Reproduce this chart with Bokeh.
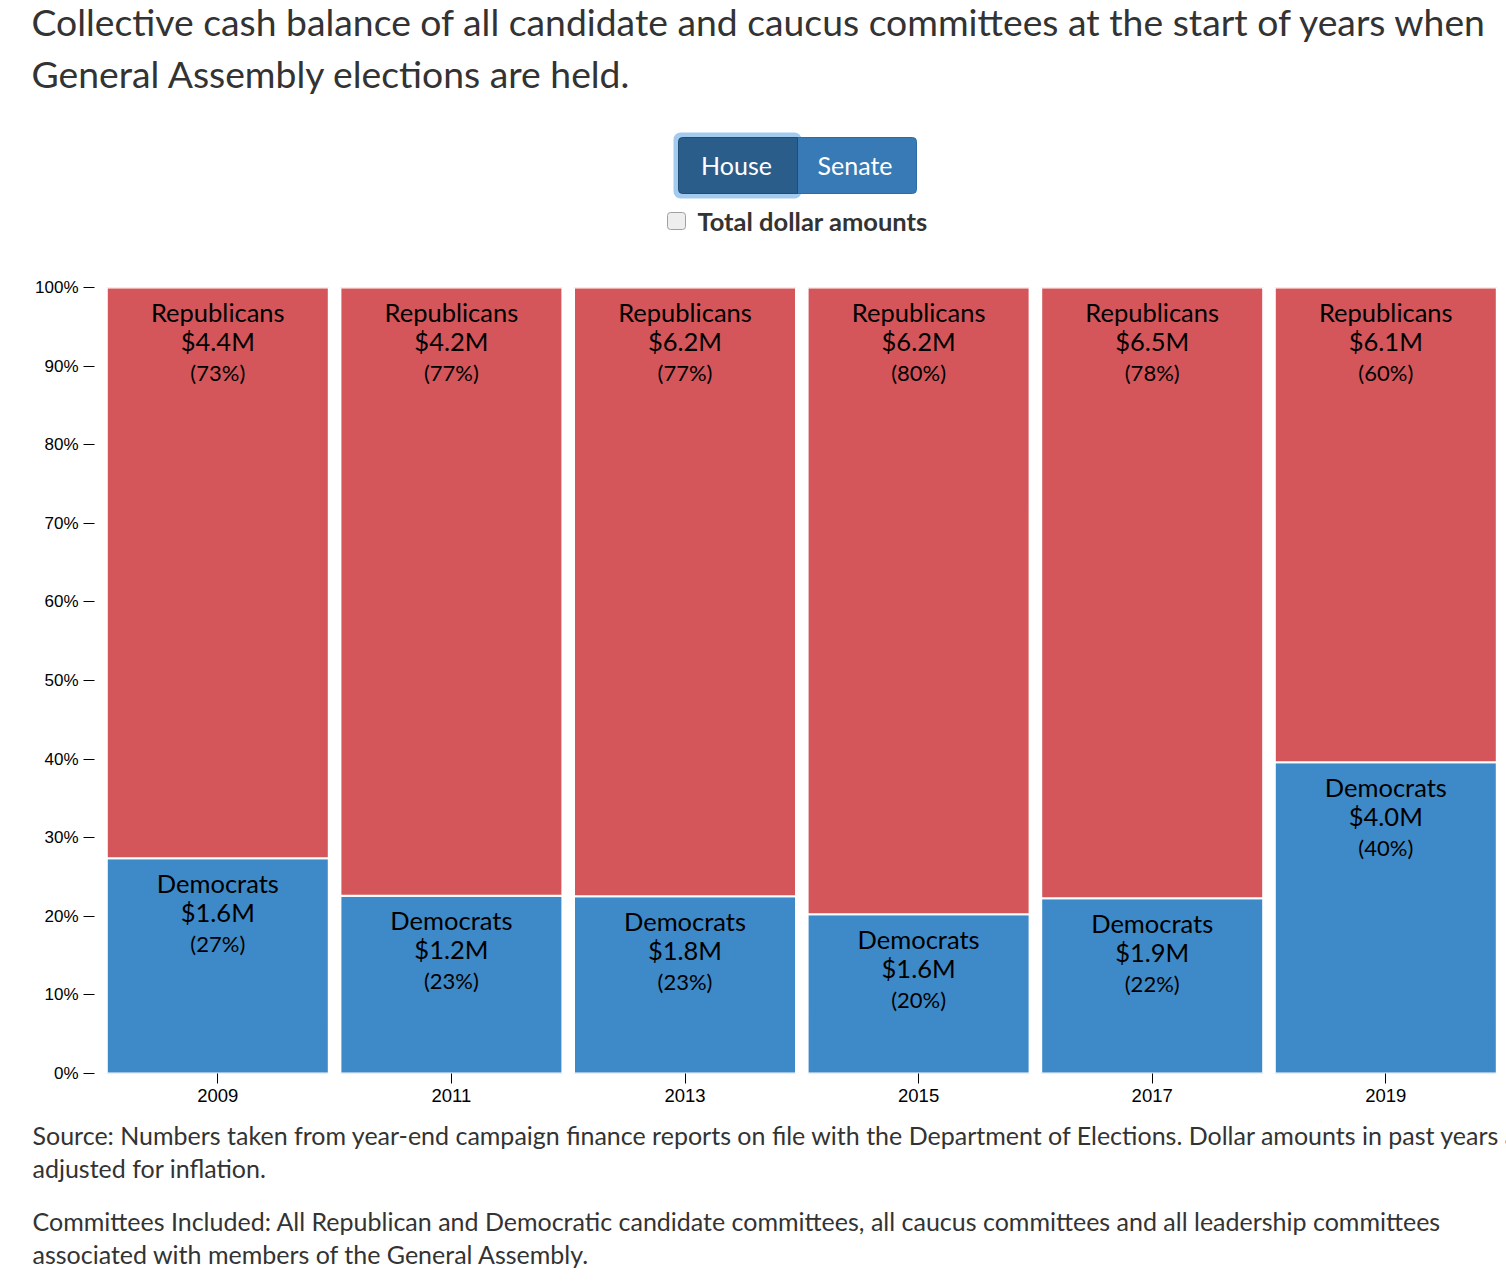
from bokeh.plotting import figure
from bokeh.layouts import column
from bokeh.models import ColumnDataSource, Range1d, FixedTicker, NumeralTickFormatter
from bokeh.core.properties import value
from bokeh.embed import file_html
from bokeh.resources import INLINE

# ---- data ----
years = [2009, 2011, 2013, 2015, 2017, 2019]
dem_share = [0.2738, 0.2261, 0.2254, 0.2027, 0.2229, 0.3960]
dem_amount = [1.6, 1.2, 1.8, 1.6, 1.9, 4.0]
rep_amount = [4.4, 4.2, 6.2, 6.2, 6.5, 6.1]
dem_pct = [27, 23, 23, 20, 22, 40]
rep_pct = [73, 77, 77, 80, 78, 60]
y_ticks = [0.0, 0.1, 0.2, 0.3, 0.4, 0.5, 0.6, 0.7, 0.8, 0.9, 1.0]

title_lines = ["Collective cash balance of all candidate and caucus committees at the start of years when",
               "General Assembly elections are held."]
button_labels = ["House", "Senate"]
checkbox_label = "Total dollar amounts"
footer_lines = ["Source: Numbers taken from year-end campaign finance reports on file with the Department of Elections. Dollar amounts in past years are",
                "adjusted for inflation.",
                "Committees Included: All Republican and Democratic candidate committees, all caucus committees and all leadership committees",
                "associated with members of the General Assembly."]

RED = "#d4565a"
BLUE = "#3e89c7"
TXT = "#333333"
FONT = value("Lato")
W = 1506

def blank_fig(height, y_top, y_bottom):
    f = figure(width=W, height=height, output_backend="svg", toolbar_location=None,
               x_range=Range1d(0, W), y_range=Range1d(y_bottom, y_top),
               x_axis_type=None, y_axis_type=None, frame_align=False,
               min_border_left=0, min_border_right=0, min_border_top=0, min_border_bottom=0)
    f.outline_line_color = None
    f.xgrid.visible = False
    f.ygrid.visible = False
    f.background_fill_color = "white"
    f.border_fill_color = "white"
    return f

# ---------- header (page y 0..250) ----------
top = blank_fig(250, 0, 250)
top.text(x=[31, 31], y=[21, 73], text=title_lines, text_font=FONT, text_font_size="37.3px",
         text_color=TXT, text_align="left", text_baseline="middle")
# focus glow around the active button
top.quad(left=[673], right=[801], top=[132], bottom=[198], fill_color="#a3cbf0",
         line_color=None, border_radius=7)
top.quad(left=[797], right=[916], top=[137], bottom=[193], fill_color="#377ab6",
         line_color="#2e6da4", line_width=1, border_radius=(0, 4, 4, 0))
top.quad(left=[678], right=[797], top=[137], bottom=[193], fill_color="#2b5d8a",
         line_color="#204d74", line_width=1, border_radius=(4, 0, 0, 4))
top.text(x=[736, 854.5], y=[164, 164], text=button_labels, text_font=FONT, text_font_size="25px",
         text_color="white", text_align="center", text_baseline="middle")
top.quad(left=[667], right=[685], top=[212], bottom=[229], fill_color="#eeeeee",
         line_color="#a0a0a0", line_width=1, border_radius=3)
top.text(x=[697], y=[220], text=[checkbox_label], text_font=FONT, text_font_size="25.5px",
         text_font_style="bold", text_color=TXT, text_align="left", text_baseline="middle")

# ---------- chart (page y 250..1113, frame 287..1073, x 94..1506) ----------
src = ColumnDataSource(dict(
    year=years,
    dem_top=dem_share,
    rep_top=[1.0] * len(years),
    dem_name=["Democrats"] * len(years),
    rep_name=["Republicans"] * len(years),
    dem_amt=[f"${v:.1f}M" for v in dem_amount],
    rep_amt=[f"${v:.1f}M" for v in rep_amount],
    dem_p=[f"({v}%)" for v in dem_pct],
    rep_p=[f"({v}%)" for v in rep_pct],
))

step = 2.0
x0 = 2009 - step * (217.3 - 94) / 233.6
x1 = 2009 + step * (W - 217.3) / 233.6

p = figure(width=W, height=863, output_backend="svg", toolbar_location=None,
           x_range=Range1d(x0, x1), y_range=Range1d(0, 1), frame_align=False,
           min_border_left=94, min_border_right=0, min_border_top=37, min_border_bottom=40)
p.outline_line_color = None
p.xgrid.visible = False
p.ygrid.visible = False
p.background_fill_color = "white"
p.border_fill_color = "white"

bw = step * 222 / 233.6
p.vbar(x="year", bottom=0, top="dem_top", width=bw, source=src,
       fill_color=BLUE, line_color="white", line_width=2)
p.vbar(x="year", bottom="dem_top", top="rep_top", width=bw, source=src,
       fill_color=RED, line_color="white", line_width=2)

for topcol, name, amt, pct in [("rep_top", "rep_name", "rep_amt", "rep_p"),
                                ("dem_top", "dem_name", "dem_amt", "dem_p")]:
    p.text(x="year", y=topcol, text=name, source=src, y_offset=24.5,
           text_font=FONT, text_font_size="25.5px", text_color="black",
           text_align="center", text_baseline="middle")
    p.text(x="year", y=topcol, text=amt, source=src, y_offset=53.5,
           text_font=FONT, text_font_size="25.5px", text_color="black",
           text_align="center", text_baseline="middle")
    p.text(x="year", y=topcol, text=pct, source=src, y_offset=85,
           text_font=FONT, text_font_size="22px", text_color="black",
           text_align="center", text_baseline="middle")

xa = p.xaxis[0]
xa.ticker = FixedTicker(ticks=years)
xa.axis_line_color = None
xa.major_tick_in = 0
xa.major_tick_out = 10
xa.major_tick_line_color = "black"
xa.minor_tick_line_color = None
xa.major_label_standoff = 5
xa.major_label_text_font = "Liberation Sans"
xa.major_label_text_font_size = "18.5px"
xa.major_label_text_color = "black"

ya = p.yaxis[0]
ya.ticker = FixedTicker(ticks=y_ticks)
ya.formatter = NumeralTickFormatter(format="0%")
ya.axis_line_color = None
ya.major_tick_in = 0
ya.major_tick_out = 11
ya.major_tick_line_color = "black"
ya.minor_tick_line_color = None
ya.major_label_standoff = 5
ya.major_label_text_font = "Liberation Sans"
ya.major_label_text_font_size = "17px"
ya.major_label_text_color = "black"

# ---------- footer (page y 1113..1286) ----------
bot = blank_fig(173, 1113, 1286)
bot.text(x=[32] * 4, y=[1134, 1167, 1220, 1253], text=footer_lines, text_font=FONT,
         text_font_size="25px", text_color=TXT, text_align="left", text_baseline="middle")

layout = column(top, p, bot, spacing=0)
open("out.html", "w").write(file_html(layout, INLINE))
